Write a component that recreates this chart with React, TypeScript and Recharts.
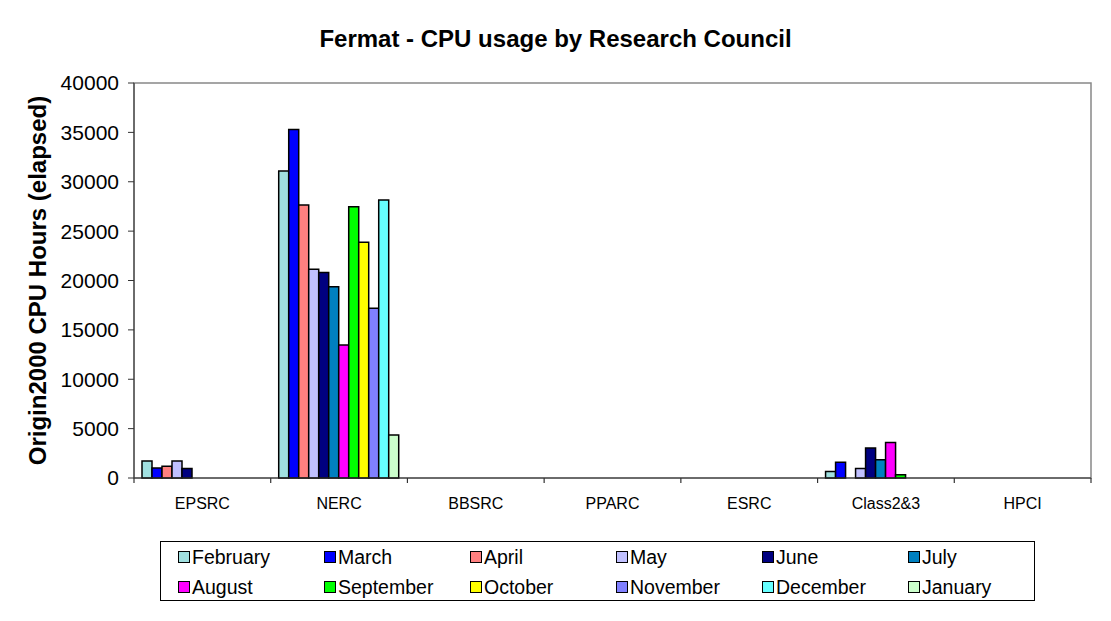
import React from 'react';
import { BarChart, Bar, XAxis, YAxis, ReferenceArea, Customized } from 'recharts';

const categories = ['EPSRC', 'NERC', 'BBSRC', 'PPARC', 'ESRC', 'Class2&3', 'HPCI'];
const months = ['February', 'March', 'April', 'May', 'June', 'July', 'August', 'September', 'October', 'November', 'December', 'January'];

// CPU hours per council, one array per month
const february = [1720, 31100, 0, 0, 0, 650, 0];
const march = [1010, 35300, 0, 0, 0, 1590, 0];
const april = [1190, 27650, 0, 0, 0, 0, 0];
const may = [1720, 21150, 0, 0, 0, 950, 0];
const june = [950, 20800, 0, 0, 0, 3040, 0];
const july = [0, 19370, 0, 0, 0, 1860, 0];
const august = [0, 13470, 0, 0, 0, 3590, 0];
const september = [0, 27480, 0, 0, 0, 340, 0];
const october = [0, 23870, 0, 0, 0, 0, 0];
const november = [0, 17180, 0, 0, 0, 0, 0];
const december = [0, 28150, 0, 0, 0, 0, 0];
const january = [0, 4350, 0, 0, 0, 0, 0];

const yTicks = [0, 5000, 10000, 15000, 20000, 25000, 30000, 35000, 40000];

const seriesValues = [february, march, april, may, june, july, august, september, october, november, december, january];
const COLORS = ['#A0E0E0', '#0000FF', '#FF8080', '#C0C0FF', '#000080', '#0080C0', '#FF00FF', '#00FF00', '#FFFF00', '#8080FF', '#66FFFF', '#CCFFCC'];

const data = categories.map((name, i) => {
    const row: Record<string, string | number> = { name };
    months.forEach((m, j) => { row[m] = seriesValues[j][i]; });
    return row;
});

const FONT = '"Liberation Sans", Arial, sans-serif';

// category label plus tick marks at the category boundaries
const CategoryTick = (props: any) => {
    const { x, y, payload, index } = props;
    const half = payload.offset || 0;
    const last = index === categories.length - 1;
    return (
        <g>
            <line x1={x - half} x2={x - half} y1={y - 8} y2={y - 3} stroke="#333" strokeWidth={1.2} />
            {last && <line x1={x + half} x2={x + half} y1={y - 8} y2={y - 3} stroke="#333" strokeWidth={1.2} />}
            <text x={x} y={y + 23} textAnchor="middle" fontSize={16} fontFamily={FONT} fill="#000">{payload.value}</text>
        </g>
    );
};

// outer chart-area frame (Excel style)
const Frame = () => (
    <path d="M6,621 L6,6 L1105,6 L1105,621" fill="none" stroke="#000" strokeWidth={2} />
);

const LegendBox = () => (
    <div style={{
        position: 'absolute', left: 160, top: 541, width: 875, height: 60,
        border: '1px solid #000', boxSizing: 'border-box', background: '#fff',
        display: 'grid', gridTemplateColumns: 'repeat(6, 146px)', gridAutoRows: 30,
        padding: '0 0 0 17px', fontFamily: FONT, fontSize: 19.5, color: '#000',
    }}>
        {months.map((m, i) => (
            <div key={m} style={{ display: 'flex', alignItems: 'center' }}>
                <span style={{ display: 'inline-block', width: 10, height: 10, background: COLORS[i], border: '1.5px solid #000', marginRight: 2 }} />
                <span>{m}</span>
            </div>
        ))}
    </div>
);

const App = () => {
    return (
        <div style={{ position: 'relative', width: 1111, height: 621, margin: -8, background: '#fff' }}>
            <div style={{ position: 'absolute', top: 25, left: 0, width: 1111, textAlign: 'center', fontFamily: FONT, fontWeight: 'bold', fontSize: 24 }}>
                Fermat - CPU usage by Research Council
            </div>
            <div style={{ position: 'absolute', left: 0, top: 0 }}>
                <BarChart width={1111} height={621} data={data} barCategoryGap={8} barGap={0}
                    margin={{ top: 83, right: 20, bottom: 0, left: 0 }}>
                    <Customized component={<Frame />} />
                    <ReferenceArea y1={0} y2={40000} fill="none" stroke="#888" strokeWidth={1.5} ifOverflow="visible" />
                    <XAxis dataKey="name" stroke="#333" tickLine={false} tick={<CategoryTick />} interval={0} height={143} />
                    <YAxis width={134} domain={[0, 40000]} ticks={yTicks} stroke="#333" tickSize={6} tickMargin={9}
                        tick={{ fontSize: 21, fontFamily: FONT, fill: '#000' }} interval={0}
                        label={({ viewBox }: any) => (
                            <text transform={`translate(37, ${viewBox.y + viewBox.height / 2}) rotate(-90)`}
                                textAnchor="middle" dominantBaseline="central"
                                fontSize={24} fontWeight="bold" fontFamily={FONT} fill="#000">
                                Origin2000 CPU Hours (elapsed)
                            </text>
                        )} />
                    {months.map((m, i) => (
                        <Bar key={m} dataKey={m} fill={COLORS[i]} stroke="#000" strokeWidth={1.5} isAnimationActive={false} />
                    ))}
                </BarChart>
            </div>
            <LegendBox />
        </div>
    );
};

export default App;
